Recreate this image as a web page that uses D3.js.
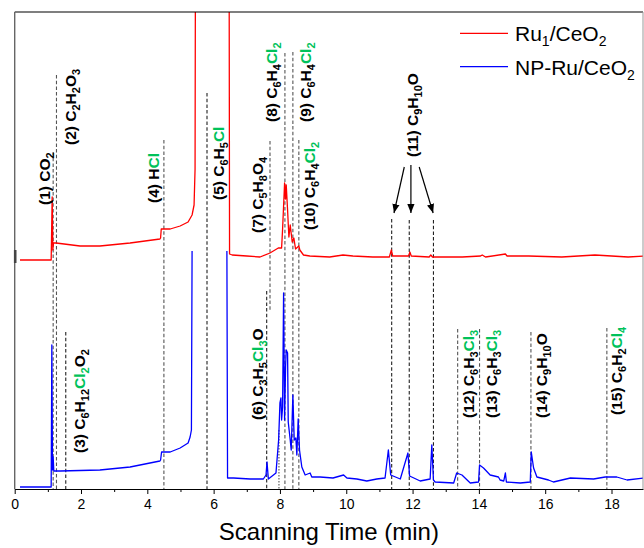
<!DOCTYPE html>
<html><head><meta charset="utf-8">
<script src="https://cdn.jsdelivr.net/npm/d3@7"></script>
<style>
html,body{margin:0;padding:0;background:#fff;}
svg{display:block;font-family:Arial,"Liberation Sans",sans-serif;}
</style></head>
<body><svg id="c" width="644" height="548"></svg>
<script>
// ---------- data ----------
const seriesNames = ["Ru1/CeO2", "NP-Ru/CeO2"];
// Ru1/CeO2 trace: [time (min), intensity (a.u.)]
const redTrace = [
 [0.16,229],[1.10,229],[1.13,292],[1.15,239],[1.17,246],[1.25,246],[1.97,243],[2.57,243],[3.48,246],
 [4.38,250],[4.40,251],[4.42,260],[4.69,260],[4.99,263],[5.23,267],[5.35,274],[5.41,284],[5.44,320],[5.46,700],
 [6.46,700],[6.48,235],[6.56,234],[7.0,233],[7.4,232],[7.70,236],[7.95,241],[8.05,241],[8.08,260],[8.14,306],
 [8.17,290],[8.19,304],[8.23,279],[8.27,252],[8.31,264],[8.37,247],[8.42,251],[8.47,240],[8.57,243],[8.60,239],
 [8.71,234],[8.9,233],[9.5,232],[9.9,234],[10.2,233],[10.8,232],[11.3,232],[11.36,239],[11.40,233],[11.88,233],
 [11.92,237],[11.96,233],[12.5,232],[12.55,234],[12.6,232],[13.5,232],[14.05,233],[14.1,234],[14.2,232],
 [14.8,235],[14.85,233],[15.5,233],[16.5,232],[17.0,233],[17.5,234],[18.0,233],[18.5,232],[19.0,233]
];
// NP-Ru/CeO2 trace (null = gap in the recorded signal)
const blueTrace = [
 [0.16,2],[1.10,2],[1.12,144],[1.14,19],[1.16,32],[1.18,18],[1.37,18],[2.57,19],[3.48,22],[4.38,28],[4.40,29],
 [4.43,37],[4.69,37],[4.99,41],[5.23,46],[5.29,52],[5.33,59],[5.35,238],[5.36,null],[6.39,null],[6.40,238],[6.42,11],
 [6.6,11],[7.1,10],[7.5,10],[7.58,14],[7.61,27],[7.65,10],[7.88,16],[7.96,49],[8.0,86],[8.03,91],[8.05,69],
 [8.08,82],[8.11,196],[8.14,69],[8.17,122],[8.19,139],[8.23,136],[8.25,67],[8.31,49],[8.34,39],[8.39,94],
 [8.43,49],[8.48,51],[8.51,34],[8.55,70],[8.59,39],[8.66,22],[8.76,14],[8.91,16],[8.96,12],[9.21,12],[9.6,11],
 [9.92,14],[10.02,11],[10.32,10],[10.62,8],[10.92,10],[11.17,11],[11.27,39],[11.34,14],[11.63,10],[11.86,36],
 [11.91,13],[12.23,8],[12.53,10],[12.58,44],[12.63,9],[12.68,7],[13.24,6],[13.33,16],[13.49,14],[13.74,6],
 [13.99,7],[14.02,24],[14.14,21],[14.34,14],[14.59,12],[14.64,9],[14.75,8],[14.8,16],[14.83,7],[15.25,6],
 [15.55,7],[15.58,37],[15.65,21],[15.75,12],[16.1,9],[16.25,7],[16.76,11],[17.46,10],[17.81,12],[18.16,12],
 [18.47,9],[19.0,11]
];
const majorTicks = [0,2,4,6,8,10,12,14,16,18];
const minorTicks = [1,3,5,7,9,11,13,15,17];
const xTitle = "Scanning Time (min)";
// retention-time marker lines: time, top intensity, bottom intensity
const markerTimes   = [1.16,1.26,1.54,4.5,5.8,7.6,7.7,7.97,8.15,8.39,8.57,11.37,11.9,12.63,13.36,14.02,15.57,17.86];
const markerTops    = [337,414,157,349,396,198,348,59,436,437,349,270,269,269,160,160,157,161];
const markerBottoms = [0,0,0,0,0,0,177,0,0,0,0,0,0,0,0,0,0,0];
// compound labels: text parts ("" normal, "s" subscript, "g" green, "gs" green subscript)
const labelParts = [
 [["(1) CO",""],["2","s"]],
 [["(2) C",""],["2","s"],["H",""],["2","s"],["O",""],["3","s"]],
 [["(3) C",""],["6","s"],["H",""],["12","s"],["Cl","g"],["2","gs"],["O",""],["2","s"]],
 [["(4) H",""],["Cl","g"]],
 [["(5) C",""],["6","s"],["H",""],["5","s"],["Cl","g"]],
 [["(6) C",""],["3","s"],["H",""],["5","s"],["Cl","g"],["3","gs"],["O",""]],
 [["(7) C",""],["5","s"],["H",""],["8","s"],["O",""],["4","s"]],
 [["(8) C",""],["6","s"],["H",""],["4","s"],["Cl","g"],["2","gs"]],
 [["(9) C",""],["6","s"],["H",""],["4","s"],["Cl","g"],["2","gs"]],
 [["(10) C",""],["6","s"],["H",""],["4","s"],["Cl","g"],["2","gs"]],
 [["(11) C",""],["9","s"],["H",""],["10","s"],["O",""]],
 [["(12) C",""],["6","s"],["H",""],["3","s"],["Cl","g"],["3","gs"]],
 [["(13) C",""],["6","s"],["H",""],["3","s"],["Cl","g"],["3","gs"]],
 [["(14) C",""],["9","s"],["H",""],["10","s"],["O",""]],
 [["(15) C",""],["6","s"],["H",""],["2","s"],["Cl","g"],["4","gs"]]
];
const labelTimes = [0.905,1.68,1.94,4.19,6.16,7.33,7.33,7.76,8.78,8.89,12.0,13.7,14.38,15.9,18.16];
const labelBases = [284,344,36,286,289,69,256,367,367,259,332,71,71,71,74];
// arrows from label (11): [fromTime, fromValue, toTime, toValue]
const arrows = [[11.75,322,11.44,276],[11.95,324,11.95,276],[12.2,322,12.62,276]];

// ---------- drawing ----------
const svg = d3.select("#c");
const L = 14.7, R = 643, T = 12, B = 489;
const x = d3.scaleLinear().domain([0,18.95]).range([L,R]);
const y = d3.scaleLinear().domain([0,477]).range([B,T]);

svg.append("defs").append("clipPath").attr("id","clip")
  .append("rect").attr("x",L).attr("y",T).attr("width",R-L).attr("height",B-T);
const marker = svg.select("defs").append("marker").attr("id","arr")
  .attr("viewBox","0 0 10 10").attr("refX",10).attr("refY",5)
  .attr("markerWidth",9).attr("markerHeight",9).attr("markerUnits","userSpaceOnUse")
  .attr("orient","auto");
marker.append("path").attr("d","M0,1 L10,5 L0,9 Z").attr("fill","#000");

// marker lines
const blackIdx = new Set([2,4,5,11,12,13]);
svg.append("g").selectAll("line").data(markerTimes).join("line")
  .attr("x1",d=>x(d)).attr("x2",d=>x(d))
  .attr("y1",(d,i)=>y(markerTops[i])).attr("y2",(d,i)=>y(markerBottoms[i]))
  .attr("stroke",(d,i)=>blackIdx.has(i)?"#222":"#555")
  .attr("stroke-width",1.1)
  .attr("stroke-dasharray",(d,i)=>i===7?"1.5,1.5":"3.5,2.2");

// traces
const line = d3.line().defined(d=>d[1]!==null).x(d=>x(d[0])).y(d=>y(d[1]));
const plot = svg.append("g").attr("clip-path","url(#clip)");
plot.append("path").datum(blueTrace).attr("d",line).attr("fill","none")
  .attr("stroke","#0000ff").attr("stroke-width",1.3).attr("stroke-linejoin","round");
plot.append("path").datum(redTrace).attr("d",line).attr("fill","none")
  .attr("stroke","#ff0000").attr("stroke-width",1.3).attr("stroke-linejoin","round");

// frame
svg.append("line").attr("x1",L).attr("x2",R).attr("y1",T).attr("y2",T).attr("stroke","#000").attr("stroke-width",1.2);
svg.append("line").attr("x1",R).attr("x2",R).attr("y1",T).attr("y2",B).attr("stroke","#999").attr("stroke-width",1);
svg.append("line").attr("x1",L).attr("x2",L).attr("y1",T).attr("y2",B).attr("stroke","#666").attr("stroke-width",1.4);
svg.append("rect").attr("x",L-0.8).attr("y",250).attr("width",2.6).attr("height",13).attr("fill","#444");

// x axis
const ax = svg.append("g").attr("transform",`translate(0,${B})`)
  .call(d3.axisBottom(x).tickValues(majorTicks).tickSize(5).tickPadding(5).tickSizeOuter(0).tickFormat(d3.format("d")));
ax.select(".domain").attr("stroke","#000").attr("stroke-width",1.2);
ax.selectAll(".tick line").attr("stroke","#000").attr("stroke-width",1);
ax.selectAll(".tick text").attr("font-size","14px").attr("fill","#000").attr("font-family","Arial, 'Liberation Sans', sans-serif");
const axm = svg.append("g").attr("transform",`translate(0,${B})`)
  .call(d3.axisBottom(x).tickValues(minorTicks).tickSize(3).tickFormat(""));
axm.select(".domain").remove();
axm.selectAll(".tick line").attr("stroke","#000");

svg.append("text").attr("x",(x(0)+x(18.95))/2).attr("y",540).attr("text-anchor","middle")
  .attr("font-size","24px").attr("fill","#000").text(xTitle);

// compound labels
const green = "#00c25a";
const lg = svg.append("g").attr("font-weight","bold").attr("font-size","15.5px");
labelParts.forEach((parts,i)=>{
  const t = lg.append("text")
    .attr("transform",`translate(${x(labelTimes[i])+5.5},${y(labelBases[i])}) rotate(-90)`);
  let shifted = false;
  parts.forEach(([txt,st])=>{
    const sub = st.includes("s");
    const ts = t.append("tspan").text(txt).attr("fill", st.includes("g")?green:"#000");
    if (sub) ts.attr("font-size","11px");
    if (sub && !shifted){ ts.attr("dy",4); shifted=true; }
    else if (!sub && shifted){ ts.attr("dy",-4); shifted=false; }
  });
});

// arrows
svg.append("g").selectAll("line").data(arrows).join("line")
  .attr("x1",d=>x(d[0])).attr("y1",d=>y(d[1])).attr("x2",d=>x(d[2])).attr("y2",d=>y(d[3]))
  .attr("stroke","#000").attr("stroke-width",1.2).attr("marker-end","url(#arr)");

// legend
const legColors = ["#ff0000","#0000ff"];
const legY = [33.3, 66.7];
const leg = svg.append("g");
seriesNames.forEach((name,i)=>{
  leg.append("line").attr("x1",460).attr("x2",508).attr("y1",legY[i]).attr("y2",legY[i])
    .attr("stroke",legColors[i]).attr("stroke-width",1.3);
  const t = leg.append("text").attr("x",515).attr("y",legY[i]+8).attr("font-size","21px").attr("fill","#000");
  const m = name.match(/^(.*?)(\d?)(\/CeO)(\d)$/);
  t.append("tspan").text(m[1]);
  if (m[2]) t.append("tspan").text(m[2]).attr("font-size","14px").attr("dy",5);
  t.append("tspan").text(m[3]).attr("dy", m[2]? -5:0);
  t.append("tspan").text(m[4]).attr("font-size","14px").attr("dy",5);
});
</script></body></html>
